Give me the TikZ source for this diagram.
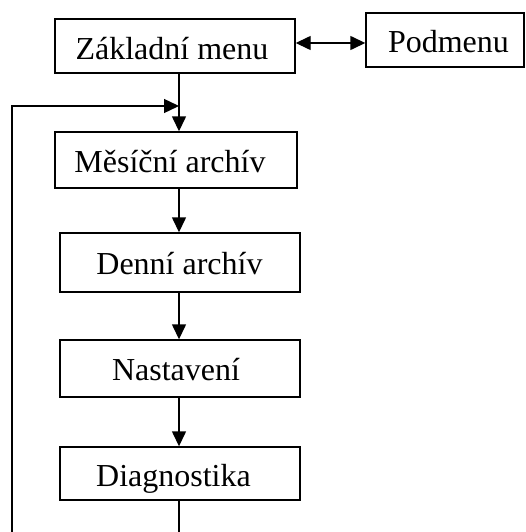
\documentclass[tikz,border=0pt]{standalone}
\usepackage{fontspec}
\setmainfont{Liberation Serif}
\usetikzlibrary{arrows.meta}
\begin{document}
\begin{tikzpicture}[x=1pt,y=-1pt,
  box/.style={draw,line width=1.4pt,inner sep=0pt},
  lbl/.style={anchor=base,inner sep=0pt,font=\fontsize{32}{38}\selectfont},
  arr/.style={line width=1.4pt,-{Triangle[length=15pt,width=14pt]}},
  darr/.style={line width=1.4pt,{Triangle[length=15pt,width=14pt]}-{Triangle[length=15pt,width=14pt]}},
  ln/.style={line width=1.4pt}]
\useasboundingbox (0,0) rectangle (526,532);
\node[box,minimum width=240pt,minimum height=54pt] (zm) at (175,46) {};
\node[box,minimum width=158pt,minimum height=54pt] (pm) at (445,40) {};
\node[box,minimum width=242pt,minimum height=56pt] (ms) at (176,160) {};
\node[box,minimum width=240pt,minimum height=59pt] (dn) at (180,262.5) {};
\node[box,minimum width=240pt,minimum height=57pt] (ns) at (180,368.5) {};
\node[box,minimum width=240pt,minimum height=53pt] (dg) at (180,473.5) {};
\node[lbl] (zmt) at (172,60) {Základní menu};
\node[lbl] (pmt) at (448.5,53) {Podmenu};
\node[lbl] (mst) at (170,172) {Měsíční archív};
\node[lbl] (dnt) at (179.5,274) {Denní archív};
\node[lbl] (nst) at (176,380) {Nastavení};
\node[lbl] (dgt) at (173.5,486) {Diagnostika};
\coordinate (spine) at (179,0);
\coordinate (da) at (0,43);
\coordinate (loopJ) at (179,106);
\coordinate (loopC) at (12,106);
\coordinate (loopB) at (12,532);
\coordinate (botB) at (179,532);
\draw[darr] (zm.east |- da) -- (pm.west |- da);
\draw[arr] (zm.south -| spine) -- (ms.north -| spine);
\draw[arr] (ms.south -| spine) -- (dn.north -| spine);
\draw[arr] (dn.south -| spine) -- (ns.north -| spine);
\draw[arr] (ns.south -| spine) -- (dg.north -| spine);
\draw[ln] (dg.south -| spine) -- (botB);
\draw[arr] (loopB) -- (loopC) -- (loopJ);
\end{tikzpicture}
\end{document}
